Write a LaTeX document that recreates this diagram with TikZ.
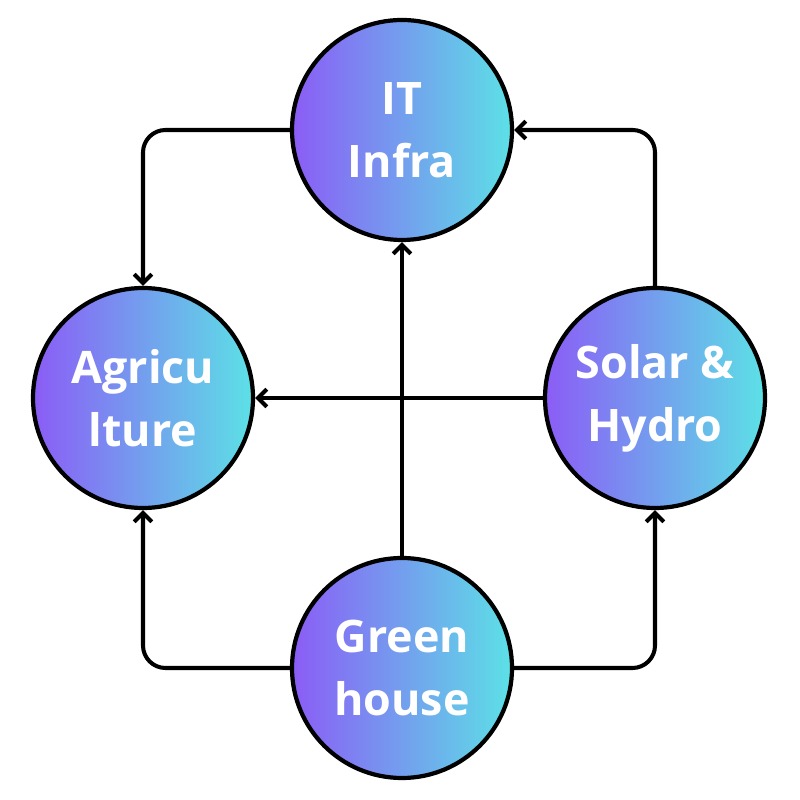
\documentclass[tikz,border=0pt]{standalone}
\usepackage{fontspec}
\setmainfont{Open Sans}
\usepackage{tikz}
\usetikzlibrary{arrows.meta,positioning}
\definecolor{gradpurple}{RGB}{139,92,246}
\definecolor{gradcyan}{RGB}{92,225,230}

\begin{document}
\begin{tikzpicture}[line join=round,
    sector/.style={circle,draw=black,line width=2.4pt,minimum size=4.4cm,inner sep=0pt,
      left color=gradpurple,right color=gradcyan,text=white,align=center,
      font=\fontsize{25.5}{36}\selectfont\bfseries},
    conn/.style={line width=2.3pt,rounded corners=0.45cm,-{Straight Barb[length=5pt,width=10pt,line width=2.3pt]}}]
  \useasboundingbox (0,0) rectangle (16,16);
  % --- four sectors ---
  \node[sector] (infra) at (8.04,13.4) {IT\\Infra};
  \node[sector] (agri) at (2.86,8.04) {Agricu\\lture};
  \node[sector] (solar) at (13.1,8.04) {Solar \&\\Hydro};
  \node[sector] (green) at (8.04,2.64) {Green\\house};
  % --- links ---
  \draw[conn] (infra.west) -| (agri.north);
  \draw[conn] (solar.north) |- (infra.east);
  \draw[conn] (green.north) -- (infra.south);
  \draw[conn] (solar.west) -- (agri.east);
  \draw[conn] (green.west) -| (agri.south);
  \draw[conn] (green.east) -| (solar.south);
\end{tikzpicture}
\end{document}
